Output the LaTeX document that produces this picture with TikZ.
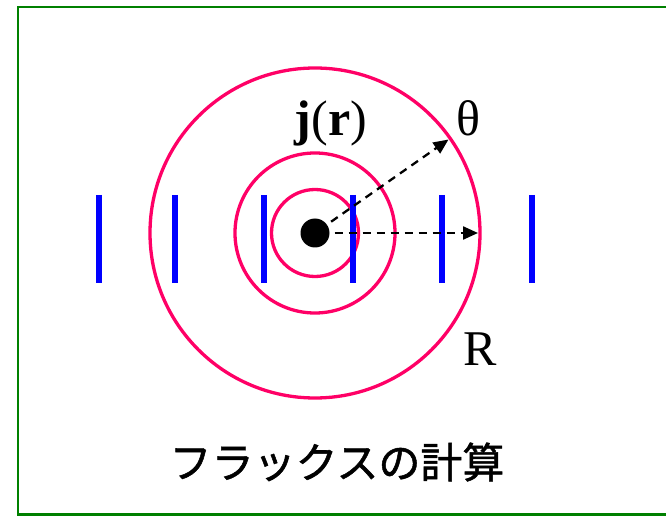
\documentclass[tikz,border=0pt]{standalone}
\usepackage{fontspec}
\setmainfont{Liberation Serif}
\newfontfamily\jpfont[FakeBold=1.2]{Noto Sans CJK JP}
\usetikzlibrary{positioning,arrows.meta}
\definecolor{ringpink}{RGB}{255,0,102}
\definecolor{framegreen}{RGB}{0,128,0}

\begin{document}
\begin{tikzpicture}[x=1pt,y=1pt,
  ring/.style={circle, draw=ringpink, line width=3.3pt, outer sep=0pt, inner sep=0pt},
  sheet/.style={blue, line width=6pt},
  flux/.style={-{Triangle[length=15pt,width=13pt]}, line width=2.3pt, dash pattern=on 8pt off 6pt, shorten <=5pt, shorten >=2pt},
  lbl/.style={font=\fontsize{50}{60}\selectfont, anchor=base}]
\useasboundingbox (-315,-283) rectangle (351,233);
% frame (open on the right)
\draw[framegreen, line width=2.3pt] (351,226) -- (-297,226) -- (-297,-281.5) -- (351,-281.5);
% rings round the source
\node[ring, minimum size=87pt] (ring1) at (0,0) {};
\node[ring, minimum size=160pt] (ring2) at (0,0) {};
\node[ring, minimum size=330pt] (ring3) at (0,0) {};
% sheets
\foreach \x in {-216,-140,-51,38,127,217}
  \draw[sheet] (\x,38) -- (\x,-50);
% source
\node[circle, fill=black, minimum size=29pt, inner sep=0pt] (src) at (0,0) {};
% flux arrows
\draw[flux] (src) -- (ring3.35);
\draw[flux] (src) -- (ring3.0);
% labels
\node[lbl] (jr) at (16,97) {\textbf{j}(\textbf{r})};
\node[lbl] (theta) at (153,97) {θ};
\node[lbl] (rad) at (165,-132) {R};
\node[font=\jpfont\fontsize{42}{48}\selectfont] (title) at (22,-229) {フラックスの計算};
\end{tikzpicture}
\end{document}
